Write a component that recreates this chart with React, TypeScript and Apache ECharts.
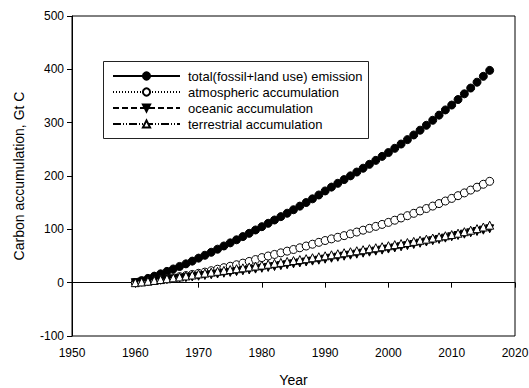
import React, { useEffect, useRef } from "react";
import * as echarts from "echarts";

// Years 1960–2016, one point per year
const years: number[] = [
  1960, 1961, 1962, 1963, 1964, 1965, 1966, 1967, 1968, 1969,
  1970, 1971, 1972, 1973, 1974, 1975, 1976, 1977, 1978, 1979,
  1980, 1981, 1982, 1983, 1984, 1985, 1986, 1987, 1988, 1989,
  1990, 1991, 1992, 1993, 1994, 1995, 1996, 1997, 1998, 1999,
  2000, 2001, 2002, 2003, 2004, 2005, 2006, 2007, 2008, 2009,
  2010, 2011, 2012, 2013, 2014, 2015, 2016,
];

// Cumulative carbon, Gt C
const totalEmission: number[] = [
  0, 3.9, 8.0, 12.2, 16.6, 21.1, 25.7, 30.4, 35.3, 40.4,
  46.0, 51.4, 57.0, 62.8, 68.8, 74.6, 80.4, 86.4, 92.5, 98.8,
  105.0, 111.3, 117.5, 123.8, 130.2, 136.8, 143.5, 150.3, 157.2, 164.4,
  172.0, 179.2, 186.3, 193.3, 200.3, 207.4, 214.6, 221.9, 229.3, 236.8,
  244.0, 251.9, 259.9, 268.2, 276.9, 285.9, 295.1, 304.5, 314.1, 323.9,
  333.0, 343.4, 354.1, 364.9, 375.9, 386.9, 398.0,
];

const atmospheric: number[] = [
  0, 1.5, 2.8, 4.4, 5.9, 7.6, 9.5, 11.3, 13.3, 15.4,
  17.5, 19.8, 22.4, 25.2, 28.1, 30.8, 33.6, 36.6, 39.8, 43.3,
  47.0, 50.0, 52.9, 55.9, 59.1, 62.2, 65.4, 68.7, 72.1, 75.6,
  79.0, 82.1, 85.1, 88.2, 91.5, 94.9, 98.4, 101.9, 105.5, 109.2,
  113.0, 117.1, 121.3, 125.6, 130.0, 134.5, 139.0, 143.6, 148.3, 153.1,
  158.0, 163.1, 168.3, 173.6, 179.0, 184.5, 190.0,
];

const oceanic: number[] = [
  0, 1.1, 2.2, 3.3, 4.5, 5.7, 6.9, 8.1, 9.4, 10.7,
  12.0, 13.4, 14.8, 16.2, 17.7, 19.2, 20.7, 22.2, 23.8, 25.4,
  27.0, 28.6, 30.2, 31.9, 33.6, 35.3, 37.0, 38.7, 40.4, 42.1,
  44.0, 45.8, 47.7, 49.6, 51.5, 53.4, 55.3, 57.2, 59.1, 61.0,
  63.0, 65.1, 67.2, 69.4, 71.6, 73.9, 76.2, 78.6, 81.0, 83.5,
  86.0, 88.4, 90.9, 93.4, 95.9, 98.4, 101.0,
];

const terrestrial: number[] = [
  0, 1.3, 2.7, 4.2, 5.8, 7.4, 9.0, 10.8, 12.6, 14.4,
  16.4, 18.0, 19.7, 21.3, 23.0, 24.6, 26.2, 27.8, 29.5, 31.2,
  32.9, 34.6, 36.3, 38.0, 39.8, 41.5, 43.3, 45.0, 46.8, 48.6,
  50.4, 52.3, 54.2, 56.1, 58.0, 59.9, 61.8, 63.7, 65.5, 67.4,
  69.3, 71.3, 73.3, 75.3, 77.4, 79.5, 81.6, 83.7, 85.9, 88.0,
  90.2, 92.8, 95.6, 98.4, 101.3, 104.4, 107.8,
];

const seriesNames: string[] = [
  "total(fossil+land use) emission",
  "atmospheric accumulation",
  "oceanic accumulation",
  "terrestrial accumulation",
];

const FONT = "'Liberation Sans', Arial, sans-serif";

const pairs = (vals: number[]) => years.map((y, i) => [y, vals[i]]);

export default function App() {
  const ref = useRef<HTMLDivElement>(null);

  useEffect(() => {
    if (!ref.current) return;
    const chart = echarts.init(ref.current, undefined, { renderer: "svg" });

    const axisCommon = {
      axisLine: { show: true, lineStyle: { color: "#000", width: 1 } },
      axisTick: { show: true, inside: false, length: 5, lineStyle: { color: "#000" } },
      splitLine: { show: false },
      nameTextStyle: { color: "#000", fontSize: 14, fontFamily: FONT },
    };
    const labelCommon = {
      color: "#000",
      fontSize: 12,
      fontFamily: FONT,
      formatter: (v: number) => String(v),
    };

    chart.setOption({
      animation: false,
      backgroundColor: "#fff",
      grid: {
        left: 72,
        right: 14,
        top: 16,
        bottom: 52,
        outerBoundsMode: "none",
        containLabel: false,
        show: true,
        borderColor: "#000",
        borderWidth: 1,
        backgroundColor: "transparent",
      },
      xAxis: {
        type: "value",
        min: 1950,
        max: 2020,
        interval: 10,
        name: "Year",
        nameLocation: "middle",
        nameGap: 37,
        ...axisCommon,
        axisLabel: { ...labelCommon, margin: 11 },
      },
      yAxis: {
        type: "value",
        min: -100,
        max: 500,
        interval: 100,
        name: "Carbon accumulation, Gt C",
        nameLocation: "middle",
        nameRotate: 90,
        nameGap: 46,
        ...axisCommon,
        axisLabel: { ...labelCommon, margin: 8 },
      },
      legend: {
        orient: "vertical",
        left: 112,
        top: 69,
        padding: 0,
        itemWidth: 67,
        itemHeight: 9,
        itemGap: 2,
        symbolRotate: "inherit",
        textStyle: {
          color: "#000",
          fontSize: 13,
          fontFamily: FONT,
          lineHeight: 14,
          padding: [0, 0, 0, 3],
        },
        data: seriesNames,
      },
      graphic: [
        {
          // legend frame
          type: "rect",
          left: 103,
          top: 61,
          shape: { width: 265, height: 77 },
          style: { fill: "transparent", stroke: "#222", lineWidth: 1 },
          z: 100,
        },
      ],
      series: [
        {
          name: seriesNames[0],
          type: "line",
          data: pairs(totalEmission),
          symbol: "circle",
          symbolSize: 8,
          lineStyle: { color: "#000", width: 1, type: "solid" },
          itemStyle: { color: "#000", borderColor: "#000", borderWidth: 1 },
        },
        {
          name: seriesNames[1],
          type: "line",
          data: pairs(atmospheric),
          symbol: "circle",
          symbolSize: 8,
          lineStyle: { color: "#000", width: 1, type: [1, 2] },
          itemStyle: { color: "#fff", borderColor: "#000", borderWidth: 1 },
        },
        {
          name: seriesNames[2],
          type: "line",
          data: pairs(oceanic),
          symbol: "triangle",
          symbolRotate: 180,
          symbolSize: 8,
          lineStyle: { color: "#000", width: 1, type: [6, 3] },
          itemStyle: { color: "#000", borderColor: "#000", borderWidth: 1 },
        },
        {
          name: seriesNames[3],
          type: "line",
          data: pairs(terrestrial),
          symbol: "triangle",
          symbolSize: 8,
          lineStyle: { color: "#000", width: 1, type: [8, 2, 1, 2, 1, 2] },
          itemStyle: { color: "#fff", borderColor: "#000", borderWidth: 1 },
        },
      ],
    });

    return () => chart.dispose();
  }, []);

  return (
    <div
      ref={ref}
      style={{ position: "absolute", left: 0, top: 0, width: 529, height: 388 }}
    />
  );
}
